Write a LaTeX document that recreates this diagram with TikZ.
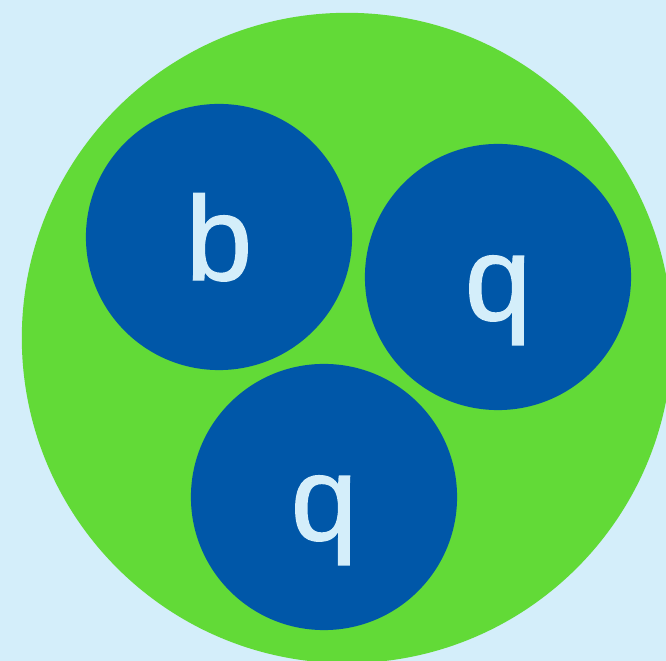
\documentclass[tikz,border=0pt]{standalone}
\usepackage{fontspec}
\setmainfont{Liberation Sans}
\newfontfamily\quarkfont{Liberation Sans}[BoldFont=Liberation Sans, BoldFeatures={FakeBold=1.2}]
\usepackage{tikz}
\definecolor{skyback}{HTML}{D4EEFA}
\definecolor{hadrongreen}{HTML}{62DA37}
\definecolor{quarkblue}{HTML}{0057A8}

\begin{document}
\begin{tikzpicture}[x=0.01cm, y=-0.01cm,
    hadron/.style={circle, fill=hadrongreen, minimum size=6.5cm, inner sep=0pt},
    quark/.style={circle, fill=quarkblue, minimum size=2.66cm, inner sep=0pt, text=skyback,
        font=\quarkfont\bfseries\fontsize{34}{40}\selectfont, text height=0.86cm, text depth=0pt}]
    % Background
    \fill[skyback] (0,0) rectangle (666,661);
    \clip (0,0) rectangle (666,661);

    % Hadron
    \node[hadron] (baryon) at (347,338) {};

    % Quarks
    \node[quark] (bottom) at (219,237) {b};
    \node[quark] (light1) at (498,277) {q};
    \node[quark] (light2) at (324,497) {q};
\end{tikzpicture}
\end{document}
